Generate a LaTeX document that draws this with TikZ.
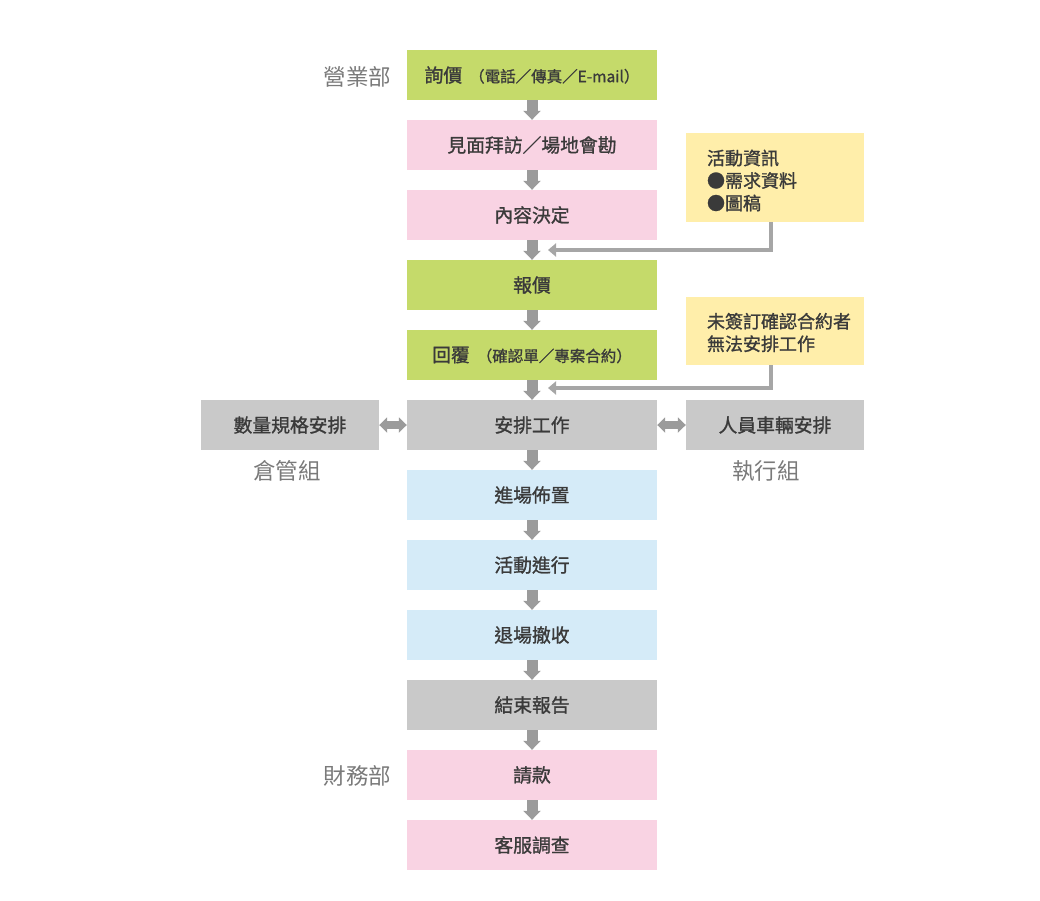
\documentclass[tikz,border=0pt]{standalone}
\usepackage{fontspec}
\setmainfont{Noto Sans CJK TC}
\newfontfamily\boxfont[FakeBold=1.2]{Noto Sans CJK TC}
\usetikzlibrary{arrows.meta}
\definecolor{cgreen}{HTML}{C5DA6A}
\definecolor{cpink}{HTML}{F9D3E3}
\definecolor{cgray}{HTML}{C9C9C9}
\definecolor{cblue}{HTML}{D5EBF8}
\definecolor{cyellow}{HTML}{FFEEAA}
\definecolor{carrow}{HTML}{9B9B9B}
\definecolor{cline}{HTML}{A6A6A6}
\definecolor{ctext}{HTML}{3A3A3A}
\definecolor{clabel}{HTML}{7A7A7A}
\begin{document}
\begin{tikzpicture}[x=1pt,y=-1pt,
  box/.style={minimum width=250pt,minimum height=50pt,inner sep=0pt,text=ctext,font=\boxfont\fontsize{18.8}{22}\selectfont},
  sidebox/.style={box,minimum width=178pt,fill=cgray},
  note/.style={fill=cyellow,minimum width=178pt,inner sep=0pt},
  notetext/.style={anchor=west,inner sep=0pt,text=ctext,font=\boxfont\fontsize{18}{22.5}\selectfont,align=left},
  dept/.style={text=clabel,font=\fontsize{22.5}{26}\selectfont},
  down/.style={draw=carrow,line width=11pt,-{Triangle[length=9pt,width=17pt]}},
  both/.style={draw=carrow,line width=8pt,{Triangle[length=8pt,width=15pt]}-{Triangle[length=8pt,width=15pt]}},
  feed/.style={draw=cline,line width=3.5pt,-{Triangle[length=8pt,width=13pt]}}]
\useasboundingbox (0,0) rectangle (1040,900);
\newcommand{\sm}[1]{{\fontsize{15.5}{16}\selectfont #1}}
\node[box,fill=cgreen] (n1) at (532,75) {詢價\hspace{7pt}\sm{（電話／傳真／E-mail）}};
\node[box,fill=cpink] (n2) at (532,145) {見面拜訪／場地會勘};
\node[box,fill=cpink] (n3) at (532,215) {內容決定};
\node[box,fill=cgreen] (n4) at (532,285) {報價};
\node[box,fill=cgreen] (n5) at (532,355) {回覆\hspace{7pt}\sm{（確認單／專案合約）}};
\node[box,fill=cgray] (n6) at (532,425) {安排工作};
\node[box,fill=cblue] (n7) at (532,495) {進場佈置};
\node[box,fill=cblue] (n8) at (532,565) {活動進行};
\node[box,fill=cblue] (n9) at (532,635) {退場撤收};
\node[box,fill=cgray] (n10) at (532,705) {結束報告};
\node[box,fill=cpink] (n11) at (532,775) {請款};
\node[box,fill=cpink] (n12) at (532,845) {客服調查};
\node[sidebox] (l) at (290,425) {數量規格安排};
\node[sidebox] (r) at (775,425) {人員車輛安排};
\node[note,minimum height=89pt] (y1) at (775,177.5) {};
\node[notetext] (t1) at ([xshift=21pt,yshift=-3pt]y1.west) {活動資訊\\●需求資料\\●圖稿};
\node[note,minimum height=68pt] (y2) at (775,331) {};
\node[notetext] (t2) at ([xshift=21pt,yshift=-1.5pt]y2.west) {未簽訂確認合約者\\無法安排工作};
\node[dept,anchor=east] (d1) at (395,77) {營業部};
\node[dept] (d2) at (287,471) {倉管組};
\node[dept] (d3) at (766,471) {執行組};
\node[dept,anchor=east] (d4) at (395,776) {財務部};
\foreach \a/\b in {n1/n2,n2/n3,n3/n4,n4/n5,n5/n6,n6/n7,n7/n8,n8/n9,n9/n10,n10/n11,n11/n12}
  \draw[down] (\a.south) -- (\b.north);
\draw[both] (l.east) -- (n6.west);
\draw[both] (r.west) -- (n6.east);
\coordinate (f1) at (548,250);
\coordinate (f2) at (548,388);
\draw[feed] ([xshift=-4pt]y1.south) |- (f1);
\draw[feed] ([xshift=-4pt]y2.south) |- (f2);
\end{tikzpicture}
\end{document}
